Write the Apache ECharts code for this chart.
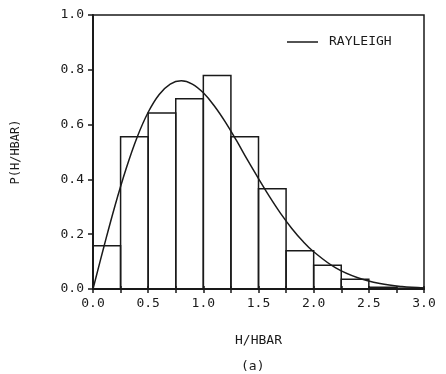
<!DOCTYPE html>
<html>
<head>
<meta charset="utf-8">
<script src="https://cdn.jsdelivr.net/npm/echarts@6/dist/echarts.min.js"></script>
<style>
  html, body { margin: 0; padding: 0; background: #fff; }
  #chart { width: 446px; height: 374px; }
</style>
</head>
<body>
<div id="chart"></div>
<script>
// Histogram bins (left edge, right edge) and probability heights
var binLeft   = [0.00, 0.25, 0.50, 0.75, 1.00, 1.25, 1.50, 1.75, 2.00, 2.25, 2.50, 2.75];
var binRight  = [0.25, 0.50, 0.75, 1.00, 1.25, 1.50, 1.75, 2.00, 2.25, 2.50, 2.75, 3.00];
var binHeight = [0.158, 0.556, 0.642, 0.694, 0.779, 0.556, 0.366, 0.140, 0.087, 0.036, 0.006, 0.003];

// Rayleigh curve points
var curveX = [0.0, 0.1, 0.2, 0.3, 0.4, 0.5, 0.6, 0.7, 0.8, 0.9, 1.0, 1.1, 1.2, 1.3, 1.4, 1.5, 1.6, 1.7, 1.8, 1.9, 2.0, 2.2, 2.4, 2.6, 2.8, 3.0];
var curveY = [0.0, 0.156, 0.305, 0.439, 0.554, 0.645, 0.710, 0.748, 0.760, 0.748, 0.716, 0.668, 0.609, 0.542, 0.471, 0.403, 0.337, 0.276, 0.222, 0.175, 0.136, 0.077, 0.041, 0.020, 0.009, 0.004];

var xTicks = ['0.0', '0.5', '1.0', '1.5', '2.0', '2.5', '3.0'];
var yTicks = ['0.0', '0.2', '0.4', '0.6', '0.8', '1.0'];
var legendLabel = 'RAYLEIGH';

var FONT = '"DejaVu Sans Mono", monospace';
var INK = '#1a1a1a';

var binData = binLeft.map(function (l, i) { return [l, binRight[i], binHeight[i]]; });
var curveData = curveX.map(function (x, i) { return [x, curveY[i]]; });

var chart = echarts.init(document.getElementById('chart'), null, { renderer: 'canvas' });
chart.setOption({
  backgroundColor: '#fff',
  animation: false,
  grid: {
    left: 93, right: 22, top: 15, bottom: 85,
    show: true, borderColor: INK, borderWidth: 1.5, backgroundColor: 'transparent'
  },
  xAxis: [{
    type: 'value', min: 0, max: 3, interval: 0.5,
    name: 'H/HBAR', nameLocation: 'middle', nameGap: 45,
    nameTextStyle: { fontFamily: FONT, fontSize: 13, color: INK },
    axisLine: { show: true, onZero: false, lineStyle: { color: INK, width: 2 } },
    axisTick: { show: true, length: 4, lineStyle: { color: INK, width: 1.5 } },
    minorTick: { show: true, splitNumber: 2, length: 4, lineStyle: { color: INK, width: 1.5 } },
    axisLabel: {
      fontFamily: FONT, fontSize: 13, color: INK, margin: 8,
      formatter: function (v) { return xTicks[Math.round(v / 0.5)]; }
    },
    splitLine: { show: false }
  }, {
    type: 'value', min: 0, max: 3, interval: 0.5, position: 'bottom',
    axisLine: { show: false },
    axisTick: { show: true, inside: true, length: 3, lineStyle: { color: INK, width: 1.5 } },
    minorTick: { show: true, splitNumber: 2, length: 3, lineStyle: { color: INK, width: 1.5 } },
    axisLabel: { show: false },
    splitLine: { show: false }
  }],
  yAxis: {
    type: 'value', min: 0, max: 1, interval: 0.2,
    name: 'P(H/HBAR)', nameLocation: 'middle', nameGap: 71, nameRotate: 90,
    nameTextStyle: { fontFamily: FONT, fontSize: 12, color: INK },
    axisLine: { show: true, lineStyle: { color: INK, width: 2 } },
    axisTick: { show: true, length: 5, lineStyle: { color: INK, width: 1.5 } },
    axisLabel: {
      fontFamily: FONT, fontSize: 13, color: INK, margin: 9,
      formatter: function (v) { return yTicks[Math.round(v / 0.2)]; }
    },
    splitLine: { show: false }
  },
  series: [{
    type: 'custom',
    name: 'bins',
    xAxisIndex: 0,
    data: binData,
    encode: { x: [0, 1], y: 2 },
    renderItem: function (params, api) {
      var p0 = api.coord([api.value(0), api.value(2)]);
      var p1 = api.coord([api.value(1), 0]);
      return {
        type: 'rect',
        shape: { x: p0[0], y: p0[1], width: p1[0] - p0[0], height: p1[1] - p0[1] },
        style: { fill: 'transparent', stroke: INK, lineWidth: 1.5 }
      };
    },
    silent: true
  }, {
    type: 'line',
    name: legendLabel,
    xAxisIndex: 0,
    data: curveData,
    smooth: 0.4,
    showSymbol: false,
    symbol: 'none',
    lineStyle: { color: INK, width: 1.5 },
    itemStyle: { color: INK },
    z: 5
  }],
  graphic: [{
    type: 'line',
    shape: { x1: 287, y1: 42, x2: 318, y2: 42 },
    style: { stroke: INK, lineWidth: 1.5 }
  }, {
    type: 'text',
    left: 329, top: 35,
    style: { text: legendLabel, fontFamily: FONT, fontSize: 13, fill: INK }
  }, {
    type: 'text',
    left: 241, top: 360,
    style: { text: '(a)', fontFamily: FONT, fontSize: 13, fill: INK }
  }]
});
</script>
</body>
</html>
